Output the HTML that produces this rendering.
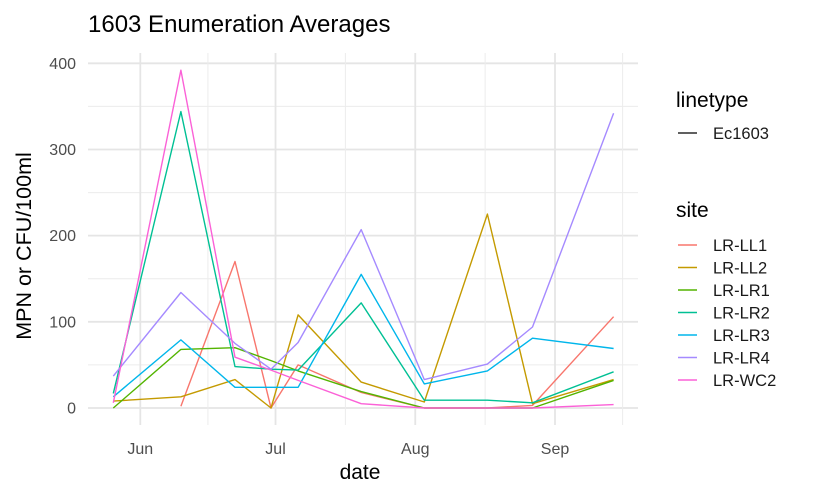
<!DOCTYPE html>
<html><head><meta charset="utf-8"><style>
body{margin:0;background:#fff;}
svg{display:block;font-family:"Liberation Sans",Arial,sans-serif;}
</style></head><body>
<svg id="chart" width="815" height="498" viewBox="0 0 815 498">
<text x="88" y="32" font-size="24" fill="#000">1603 Enumeration Averages</text>
<g id="grid"></g>
<g id="yticks"></g>
<g id="xticks"></g>
<g id="series"></g>
<text x="360" y="479" font-size="21" text-anchor="middle" fill="#000">date</text>
<text transform="translate(31,246) rotate(-90)" font-size="21.5" text-anchor="middle" fill="#000">MPN or CFU/100ml</text>
<g>
<text x="676" y="107" font-size="21" fill="#000">linetype</text>
<line x1="678" x2="697" y1="133" y2="133" stroke="#000" stroke-width="1.3"/>
<text x="713" y="139" font-size="16.5" fill="#1a1a1a">Ec1603</text>
</g>
<g id="legend">
<text x="676" y="217" font-size="21" fill="#000">site</text>
</g>
</svg>
<script>
const categories = ["LR-LL1","LR-LL2","LR-LR1","LR-LR2","LR-LR3","LR-LR4","LR-WC2"];
const colors = ["#F8766D","#C49A00","#53B400","#00C094","#00B6EB","#A58AFF","#FB61D7"];
// sample dates as days since Jun 1
const sampleDays = [-6, 9, 21, 29, 35, 49, 63, 77, 87, 105];
const llOne = [null, 2, 170, 0, 50, 18, 0, 0, 3, 106];
const llTwo = [8, 13, 33, 0, 108, 30, 7, 225, 5, 33];
const lrOne = [0, 68, 70, 55, 43, 19, 0, 0, 0, 32];
const lrTwo = [17, 344, 48, 45, 44, 122, 9, 9, 6, 42];
const lrThree = [13, 79, 24, 24, 24, 155, 28, 43, 81, 69];
const lrFour = [37, 134, 75, 45, 76, 207, 33, 51, 94, 342];
const wcTwo = [6, 392, 59, 44, 32, 5, 0, 0, 0, 4];
const seriesValues = [llOne, llTwo, lrOne, lrTwo, lrThree, lrFour, wcTwo];
const yTicks = [0, 100, 200, 300, 400];
const xTickLabels = ["Jun","Jul","Aug","Sep"];
const xTickDays = [0, 30, 61, 92];
const xMinorDays = [15, 45.5, 76.5, 107];

const NS = "http://www.w3.org/2000/svg";
const X0 = 88, X1 = 638, Y0 = 50, Y1 = 438;
function xs(d){ return 140.3 + d * (555 - 140.3) / 92; }
function ys(v){ return 408 - v * (408 - 63.3) / 400; }
function mk(tag, attrs, parent){ const e = document.createElementNS(NS, tag); for (const k in attrs) e.setAttribute(k, attrs[k]); parent.appendChild(e); return e; }
const grid = document.getElementById('grid');
yTicks.forEach((v, i) => {
  const l = mk('line', {x1: X0, x2: X1, y1: ys(v), y2: ys(v), stroke: '#e5e5e5', 'stroke-width': 1.8}, grid);
  
  
  if (i < yTicks.length - 1) {
    const m = mk('line', {x1: X0, x2: X1, y1: ys(v + 50), y2: ys(v + 50), stroke: '#ececec', 'stroke-width': 1}, grid);
    
    
  }
  const t = mk('text', {x: 76, y: ys(v) + 5.5, 'font-size': 16, 'text-anchor': 'end', fill: '#4d4d4d'}, document.getElementById('yticks'));
  t.textContent = v;
  
  
});
xTickDays.forEach((d, i) => {
  const l = mk('line', {x1: xs(d), x2: xs(d), y1: Y0 + 3, y2: Y1 - 13, stroke: '#e5e5e5', 'stroke-width': 1.8}, grid);
  
  
  const t = mk('text', {x: xs(d), y: 454, 'font-size': 16, 'text-anchor': 'middle', fill: '#4d4d4d'}, document.getElementById('xticks'));
  t.textContent = xTickLabels[i];
  
  
});
xMinorDays.forEach(d => {
  const l = mk('line', {x1: xs(d), x2: xs(d), y1: Y0 + 3, y2: Y1 - 13, stroke: '#ececec', 'stroke-width': 1}, grid);
  
  
});
const sg = document.getElementById('series');
seriesValues.forEach((vals, si) => {
  let d = '', pen = false;
  vals.forEach((v, i) => {
    if (v === null) { pen = false; return; }
    d += (pen ? 'L' : 'M') + xs(sampleDays[i]).toFixed(1) + ',' + ys(v).toFixed(1);
    pen = true;
  });
  const p = mk('path', {d: d, fill: 'none', stroke: colors[si], 'stroke-width': 1.4, 'stroke-linejoin': 'round'}, sg);
  
  
});
const lg = document.getElementById('legend');
categories.forEach((c, i) => {
  const y = 245 + i * 22.5;
  const l = mk('line', {x1: 678, x2: 697, y1: y, y2: y, stroke: colors[i], 'stroke-width': 1.4}, lg);
  
  
  const t = mk('text', {x: 713, y: y + 6, 'font-size': 16.5, fill: '#1a1a1a'}, lg);
  t.textContent = c;
  
  
});
</script>
</body></html>
